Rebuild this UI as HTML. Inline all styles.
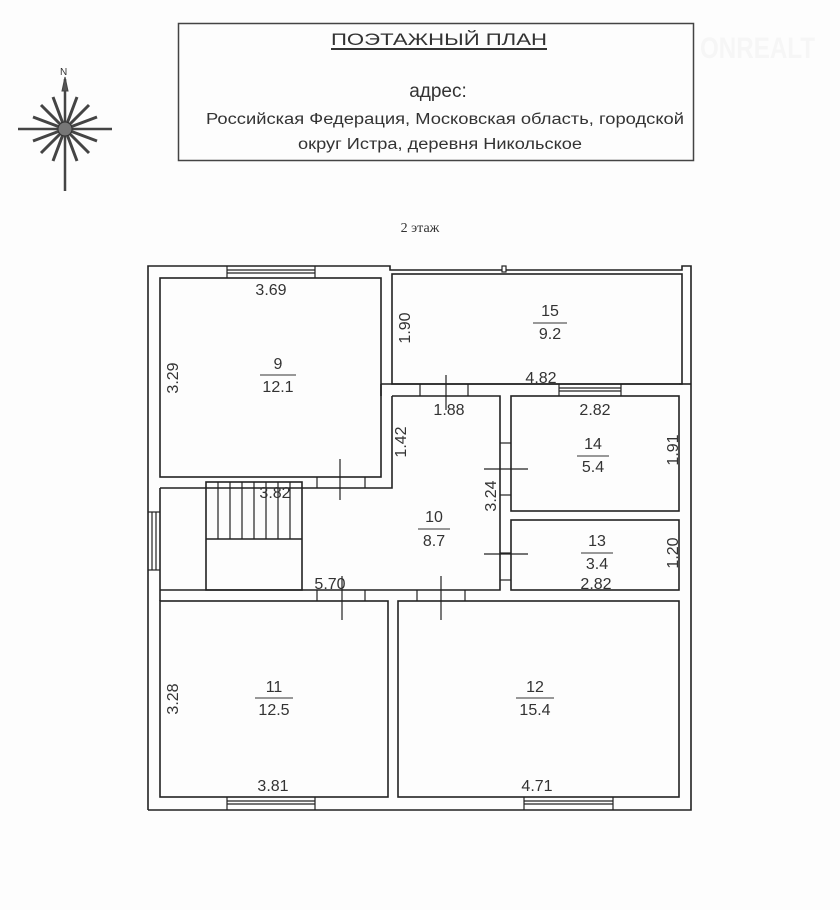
<!DOCTYPE html>
<html><head><meta charset="utf-8"><style>
html,body{margin:0;padding:0;background:#fff;width:840px;height:910px;overflow:hidden}
svg text{font-family:"Liberation Sans",sans-serif;fill:#333}
</style></head><body>
<svg width="840" height="910" viewBox="0 0 840 910" xmlns="http://www.w3.org/2000/svg">
<rect width="840" height="910" fill="#fdfdfd"/>
<!-- header -->
<rect x="178.5" y="23.5" width="515" height="137" fill="none" stroke="#444" stroke-width="1.5"/>
<text x="439" y="45" font-size="17" text-anchor="middle" textLength="216" lengthAdjust="spacingAndGlyphs">ПОЭТАЖНЫЙ ПЛАН</text>
<line x1="331" y1="49" x2="547" y2="49" stroke="#333" stroke-width="2"/>
<text x="438" y="97" font-size="19" text-anchor="middle">адрес:</text>
<text x="445" y="124" font-size="15.5" text-anchor="middle" textLength="478" lengthAdjust="spacingAndGlyphs">Российская Федерация, Московская область, городской</text>
<text x="440" y="149" font-size="15.5" text-anchor="middle" textLength="284" lengthAdjust="spacingAndGlyphs">округ Истра, деревня Никольское</text>
<text x="700" y="58" font-size="30" font-weight="bold" style="fill:#f6f6f6" textLength="115" lengthAdjust="spacingAndGlyphs">ONREALT</text>
<text x="420" y="232" font-size="14" text-anchor="middle" style="font-family:'Liberation Serif',serif">2 этаж</text>
<!-- compass -->
<g transform="translate(65,129)" stroke="#444" fill="#555">
<line x1="0" y1="-50" x2="0" y2="62" stroke-width="2.5"/>
<line x1="-47" y1="0" x2="47" y2="0" stroke-width="2.5"/>
<polygon points="0,-52 -3,-38 3,-38"/>
<g stroke-width="3">
<line x1="0" y1="0" x2="12" y2="-32"/><line x1="0" y1="0" x2="-12" y2="-32"/>
<line x1="0" y1="0" x2="24" y2="-24"/><line x1="0" y1="0" x2="-24" y2="-24"/>
<line x1="0" y1="0" x2="32" y2="-12"/><line x1="0" y1="0" x2="-32" y2="-12"/>
<line x1="0" y1="0" x2="12" y2="32"/><line x1="0" y1="0" x2="-12" y2="32"/>
<line x1="0" y1="0" x2="24" y2="24"/><line x1="0" y1="0" x2="-24" y2="24"/>
<line x1="0" y1="0" x2="32" y2="12"/><line x1="0" y1="0" x2="-32" y2="12"/>
</g>
<circle r="7" fill="#777" stroke="#333"/>
</g>
<text x="60" y="75" font-size="10" fill="#333">N</text>
<!-- plan -->
<g fill="none" stroke="#222" stroke-width="1.6">
<polyline points="148,810 148,266 390,266 390,270 682,270 682,266 691,266 691,384 691,810 148,810"/>
<rect x="160" y="278" width="221" height="199"/>
<rect x="392" y="274" width="290" height="110"/>
<rect x="511" y="396" width="168" height="115"/>
<rect x="511" y="520" width="168" height="70"/>
<rect x="160" y="601" width="228" height="196"/>
<rect x="398" y="601" width="281" height="196"/>
<polyline points="392,396 500,396 500,590 160,590"/>
<polyline points="392,396 392,488 160,488"/>
<line x1="381" y1="384" x2="679" y2="384"/>
<line x1="381" y1="384" x2="381" y2="396"/>
<line x1="160" y1="488" x2="160" y2="601"/>
<line x1="679" y1="384" x2="691" y2="384"/>
<rect x="206" y="482" width="96" height="108"/>
<line x1="206" y1="539" x2="302" y2="539"/>
</g>
<g stroke="#222" stroke-width="1.2">
<line x1="218" y1="482" x2="218" y2="539"/><line x1="230" y1="482" x2="230" y2="539"/>
<line x1="242" y1="482" x2="242" y2="539"/><line x1="254" y1="482" x2="254" y2="539"/>
<line x1="266" y1="482" x2="266" y2="539"/><line x1="278" y1="482" x2="278" y2="539"/>
<line x1="290" y1="482" x2="290" y2="539"/>
<line x1="227" y1="266" x2="227" y2="278"/><line x1="315" y1="266" x2="315" y2="278"/>
<line x1="227" y1="270" x2="315" y2="270"/><line x1="227" y1="273" x2="315" y2="273"/>
<line x1="227" y1="797" x2="227" y2="810"/><line x1="315" y1="797" x2="315" y2="810"/>
<line x1="227" y1="801" x2="315" y2="801"/><line x1="227" y1="804" x2="315" y2="804"/>
<line x1="524" y1="797" x2="524" y2="810"/><line x1="613" y1="797" x2="613" y2="810"/>
<line x1="524" y1="801" x2="613" y2="801"/><line x1="524" y1="804" x2="613" y2="804"/>
<line x1="559" y1="384" x2="559" y2="396"/><line x1="621" y1="384" x2="621" y2="396"/>
<line x1="559" y1="388" x2="621" y2="388"/><line x1="559" y1="391" x2="621" y2="391"/>
<line x1="148" y1="512" x2="160" y2="512"/><line x1="148" y1="570" x2="160" y2="570"/>
<line x1="152" y1="512" x2="152" y2="570"/><line x1="156" y1="512" x2="156" y2="570"/>
<rect x="502" y="266" width="4" height="6" fill="#fff"/>
<line x1="420" y1="384" x2="420" y2="396"/><line x1="468" y1="384" x2="468" y2="396"/>
<line x1="446" y1="375" x2="446" y2="410"/>
<line x1="317" y1="477" x2="317" y2="488"/><line x1="365" y1="477" x2="365" y2="488"/>
<line x1="340" y1="459" x2="340" y2="500"/>
<line x1="500" y1="443" x2="511" y2="443"/><line x1="500" y1="495" x2="511" y2="495"/>
<line x1="484" y1="469" x2="528" y2="469"/>
<line x1="500" y1="553" x2="511" y2="553"/><line x1="500" y1="580" x2="511" y2="580"/>
<line x1="484" y1="554" x2="528" y2="554"/>
<line x1="317" y1="590" x2="317" y2="601"/><line x1="365" y1="590" x2="365" y2="601"/>
<line x1="342" y1="576" x2="342" y2="620"/>
<line x1="417" y1="590" x2="417" y2="601"/><line x1="465" y1="590" x2="465" y2="601"/>
<line x1="441" y1="576" x2="441" y2="620"/>
</g>
<g font-size="16" text-anchor="middle">
<text x="271" y="295">3.69</text>
<text x="278" y="369">9</text><text x="278" y="392">12.1</text>
<line x1="260" y1="375" x2="296" y2="375" stroke="#333"/>
<text x="550" y="316">15</text><text x="550" y="339">9.2</text>
<line x1="533" y1="323" x2="567" y2="323" stroke="#333"/>
<text x="541" y="383">4.82</text>
<text x="449" y="415">1.88</text>
<text x="595" y="415">2.82</text>
<text x="593" y="449">14</text><text x="593" y="472">5.4</text>
<line x1="577" y1="456" x2="609" y2="456" stroke="#333"/>
<text x="434" y="522">10</text><text x="434" y="546">8.7</text>
<line x1="418" y1="529" x2="450" y2="529" stroke="#333"/>
<text x="597" y="546">13</text><text x="597" y="569">3.4</text>
<line x1="581" y1="553" x2="613" y2="553" stroke="#333"/>
<text x="596" y="589">2.82</text>
<text x="275" y="498">3.82</text>
<text x="330" y="589">5.70</text>
<text x="274" y="692">11</text><text x="274" y="715">12.5</text>
<line x1="255" y1="698" x2="293" y2="698" stroke="#333"/>
<text x="535" y="692">12</text><text x="535" y="715">15.4</text>
<line x1="516" y1="698" x2="554" y2="698" stroke="#333"/>
<text x="273" y="791">3.81</text>
<text x="537" y="791">4.71</text>
<text transform="translate(178,378) rotate(-90)">3.29</text>
<text transform="translate(410,328) rotate(-90)">1.90</text>
<text transform="translate(406,442) rotate(-90)">1.42</text>
<text transform="translate(496,496) rotate(-90)">3.24</text>
<text transform="translate(678,450) rotate(-90)">1.91</text>
<text transform="translate(678,553) rotate(-90)">1.20</text>
<text transform="translate(178,699) rotate(-90)">3.28</text>
</g>
</svg>
</body></html>
